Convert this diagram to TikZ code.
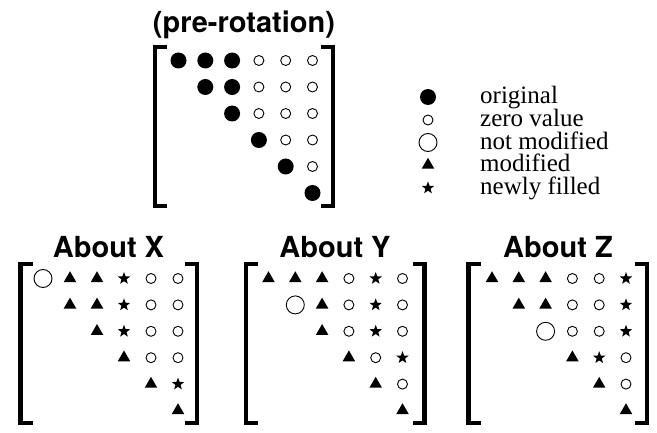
\documentclass[tikz,border=0pt]{standalone}
\usepackage{fontspec}
\setmainfont{Liberation Serif}
\newfontfamily\headfont{TeX Gyre Heros}
\usetikzlibrary{shapes.geometric}
\newcommand\placemat[6]{% name, x0, y0, dx, dy, entries r/c/style
  \foreach \r/\c/\t in {#6} {
    \node[\t] (#1-\r-\c) at ({#2+(\c-1)*#4},{#3+(\r-1)*#5}) {};
  }%
}
\newcommand\bracketpair[5]{% left x, right x, top y, bottom y, serif
  \draw[brk] ({#1+#5},#3) -- (#1,#3) -- (#1,#4) -- ({#1+#5},#4);
  \draw[brk] ({#2-#5},#3) -- (#2,#3) -- (#2,#4) -- ({#2-#5},#4);
}
\begin{document}
\begin{tikzpicture}[x=1pt,y=-1pt,
  sym/.style={inner sep=0pt,outer sep=0pt},
  sfill/.style={sym,circle,fill=black,minimum size=16pt},
  szero/.style={sym,circle,draw=black,line width=0.9pt,minimum size=10pt},
  snot/.style={sym,circle,draw=black,line width=0.9pt,minimum size=18pt},
  stri/.style={sym,regular polygon,regular polygon sides=3,fill=black,minimum size=14.5pt},
  sstar/.style={sym,star,star points=5,star point ratio=2.4,fill=black,minimum size=13pt},
  brk/.style={line width=4.5pt,line join=miter,line cap=butt},
  head/.style={font=\headfont\bfseries\fontsize{29}{29}\selectfont,inner sep=0pt},
  leg/.style={font=\fontsize{25}{25}\selectfont,inner sep=0pt,anchor=base west}]
\useasboundingbox (0,0) rectangle (657,433);

% ---------- pre-rotation ----------
\node[head] (tpre) at (244,25) {(pre-rotation)};
\bracketpair{155}{333}{47}{206}{12}
\placemat{P}{178.5}{60.5}{26.8}{26.5}{%
1/1/sfill,1/2/sfill,1/3/sfill,1/4/szero,1/5/szero,1/6/szero,
2/2/sfill,2/3/sfill,2/4/szero,2/5/szero,2/6/szero,
3/3/sfill,3/4/szero,3/5/szero,3/6/szero,
4/4/sfill,4/5/szero,4/6/szero,
5/5/sfill,5/6/szero,
6/6/sfill}

% ---------- legend ----------
\node[sfill] (l1) at (428,97) {};
\node[szero] (l2) at (428,120) {};
\node[snot]  (l3) at (428,142.5) {};
\node[stri]  (l4) at (428,165) {};
\node[sstar] (l5) at (428,188) {};
\node[leg] (lt1) at (480,104) {original};
\node[leg] (lt2) at (480,127) {zero value};
\node[leg] (lt3) at (480,149.5) {not modified};
\node[leg] (lt4) at (480,172) {modified};
\node[leg] (lt5) at (480,195) {newly filled};

% ---------- About X ----------
\node[head] (tx) at (108.5,247) {About X};
\bracketpair{20.5}{197}{264}{423}{12}
\placemat{X}{43}{278.5}{27}{26.4}{%
1/1/snot,1/2/stri,1/3/stri,1/4/sstar,1/5/szero,1/6/szero,
2/2/stri,2/3/stri,2/4/sstar,2/5/szero,2/6/szero,
3/3/stri,3/4/sstar,3/5/szero,3/6/szero,
4/4/stri,4/5/szero,4/6/szero,
5/5/stri,5/6/sstar,
6/6/stri}

% ---------- About Y ----------
\node[head] (ty) at (335,247) {About Y};
\bracketpair{246}{424.5}{264}{423}{12}
\placemat{Y}{268.5}{278.5}{26.8}{26.4}{%
1/1/stri,1/2/stri,1/3/stri,1/4/szero,1/5/sstar,1/6/szero,
2/2/snot,2/3/stri,2/4/szero,2/5/sstar,2/6/szero,
3/3/stri,3/4/szero,3/5/sstar,3/6/szero,
4/4/stri,4/5/szero,4/6/sstar,
5/5/stri,5/6/szero,
6/6/stri}

% ---------- About Z ----------
\node[head] (tz) at (558,247) {About Z};
\bracketpair{468.5}{647}{264}{423}{12}
\placemat{Z}{492}{278.5}{26.8}{26.4}{%
1/1/stri,1/2/stri,1/3/stri,1/4/szero,1/5/szero,1/6/sstar,
2/2/stri,2/3/stri,2/4/szero,2/5/szero,2/6/sstar,
3/3/snot,3/4/szero,3/5/szero,3/6/sstar,
4/4/stri,4/5/sstar,4/6/szero,
5/5/stri,5/6/szero,
6/6/stri}
\end{tikzpicture}
\end{document}
